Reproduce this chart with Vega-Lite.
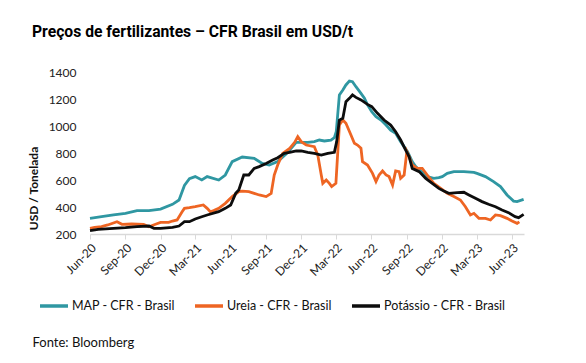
{
"$schema": "https://vega.github.io/schema/vega-lite/v6.json",
"autosize": "none",
"width": 434,
"height": 162,
"padding": {"left": 90, "top": 72, "right": 62, "bottom": 129},
"background": "white",
"title": {"text": "Preços de fertilizantes – CFR Brasil em USD/t", "anchor": "start", "frame": "group", "dx": -58, "font": "Roboto", "fontWeight": "bold", "fontSize": 15.7, "color": "#000000", "offset": 25},
"config": {"view": {"stroke": null}, "font": "Lato"},
"datasets": {
"map": [
{"d":"2020-06-01","v":316},{"d":"2020-07-01","v":328},{"d":"2020-08-01","v":341},{"d":"2020-09-01","v":353},{"d":"2020-10-01","v":373},{"d":"2020-11-01","v":373},{"d":"2020-12-01","v":385},{"d":"2021-01-01","v":420},{"d":"2021-01-18","v":452},{"d":"2021-02-01","v":560},{"d":"2021-02-14","v":610},{"d":"2021-03-01","v":625},{"d":"2021-03-18","v":600},{"d":"2021-04-01","v":625},{"d":"2021-05-01","v":600},{"d":"2021-05-18","v":637},{"d":"2021-06-05","v":736},{"d":"2021-07-01","v":770},{"d":"2021-08-01","v":760},{"d":"2021-08-22","v":723},{"d":"2021-09-09","v":711},{"d":"2021-10-01","v":736},{"d":"2021-10-22","v":790},{"d":"2021-11-01","v":822},{"d":"2021-11-18","v":879},{"d":"2021-12-01","v":879},{"d":"2021-12-18","v":879},{"d":"2022-01-04","v":884},{"d":"2022-01-17","v":896},{"d":"2022-01-30","v":889},{"d":"2022-02-16","v":896},{"d":"2022-02-25","v":914},{"d":"2022-03-02","v":960},{"d":"2022-03-10","v":1230},{"d":"2022-03-19","v":1267},{"d":"2022-03-27","v":1304},{"d":"2022-04-05","v":1333},{"d":"2022-04-13","v":1328},{"d":"2022-04-22","v":1291},{"d":"2022-05-05","v":1242},{"d":"2022-05-14","v":1205},{"d":"2022-05-22","v":1156},{"d":"2022-06-02","v":1106},{"d":"2022-06-13","v":1069},{"d":"2022-06-26","v":1044},{"d":"2022-07-09","v":1007},{"d":"2022-07-21","v":970},{"d":"2022-08-03","v":946},{"d":"2022-08-16","v":884},{"d":"2022-09-03","v":810},{"d":"2022-09-15","v":736},{"d":"2022-09-24","v":699},{"d":"2022-10-07","v":667},{"d":"2022-10-24","v":625},{"d":"2022-11-10","v":612},{"d":"2022-11-23","v":617},{"d":"2022-12-02","v":625},{"d":"2022-12-15","v":649},{"d":"2023-01-01","v":662},{"d":"2023-01-27","v":662},{"d":"2023-02-22","v":657},{"d":"2023-03-02","v":649},{"d":"2023-03-24","v":625},{"d":"2023-04-14","v":588},{"d":"2023-05-02","v":551},{"d":"2023-05-19","v":489},{"d":"2023-06-05","v":444},{"d":"2023-06-14","v":440},{"d":"2023-07-01","v":457}
],
"ureia": [
{"d":"2020-06-01","v":242},{"d":"2020-06-13","v":249},{"d":"2020-07-01","v":254},{"d":"2020-07-17","v":267},{"d":"2020-08-10","v":291},{"d":"2020-08-23","v":272},{"d":"2020-09-17","v":274},{"d":"2020-10-18","v":272},{"d":"2020-11-01","v":254},{"d":"2020-11-18","v":272},{"d":"2020-12-01","v":286},{"d":"2020-12-22","v":286},{"d":"2021-01-01","v":296},{"d":"2021-01-13","v":304},{"d":"2021-01-26","v":365},{"d":"2021-02-01","v":390},{"d":"2021-02-14","v":395},{"d":"2021-03-01","v":402},{"d":"2021-03-22","v":415},{"d":"2021-04-01","v":390},{"d":"2021-04-09","v":365},{"d":"2021-04-18","v":373},{"d":"2021-05-01","v":390},{"d":"2021-05-18","v":427},{"d":"2021-06-05","v":477},{"d":"2021-06-22","v":514},{"d":"2021-07-01","v":518},{"d":"2021-07-18","v":514},{"d":"2021-08-01","v":501},{"d":"2021-08-14","v":489},{"d":"2021-09-01","v":477},{"d":"2021-09-14","v":501},{"d":"2021-09-22","v":637},{"d":"2021-10-01","v":711},{"d":"2021-10-14","v":797},{"d":"2021-11-01","v":834},{"d":"2021-11-14","v":879},{"d":"2021-11-22","v":921},{"d":"2021-12-01","v":884},{"d":"2021-12-14","v":859},{"d":"2022-01-04","v":847},{"d":"2022-01-13","v":785},{"d":"2022-01-22","v":637},{"d":"2022-01-26","v":575},{"d":"2022-02-04","v":600},{"d":"2022-02-12","v":575},{"d":"2022-02-18","v":551},{"d":"2022-03-01","v":575},{"d":"2022-03-10","v":1007},{"d":"2022-03-19","v":1044},{"d":"2022-03-27","v":1020},{"d":"2022-04-09","v":933},{"d":"2022-04-18","v":872},{"d":"2022-04-26","v":859},{"d":"2022-05-05","v":835},{"d":"2022-05-09","v":736},{"d":"2022-05-22","v":711},{"d":"2022-06-04","v":649},{"d":"2022-06-13","v":588},{"d":"2022-06-21","v":637},{"d":"2022-06-30","v":667},{"d":"2022-07-09","v":637},{"d":"2022-07-17","v":625},{"d":"2022-07-26","v":563},{"d":"2022-08-03","v":667},{"d":"2022-08-12","v":662},{"d":"2022-08-16","v":612},{"d":"2022-08-25","v":637},{"d":"2022-09-01","v":810},{"d":"2022-09-07","v":773},{"d":"2022-09-15","v":711},{"d":"2022-09-28","v":686},{"d":"2022-10-11","v":686},{"d":"2022-10-24","v":637},{"d":"2022-11-10","v":575},{"d":"2022-11-28","v":538},{"d":"2022-12-15","v":501},{"d":"2023-01-01","v":477},{"d":"2023-01-18","v":452},{"d":"2023-01-31","v":402},{"d":"2023-02-13","v":341},{"d":"2023-02-22","v":353},{"d":"2023-03-07","v":316},{"d":"2023-03-24","v":316},{"d":"2023-04-06","v":304},{"d":"2023-04-19","v":341},{"d":"2023-05-02","v":336},{"d":"2023-05-19","v":316},{"d":"2023-06-01","v":296},{"d":"2023-06-14","v":279},{"d":"2023-06-20","v":290}
],
"potassio": [
{"d":"2020-06-01","v":225},{"d":"2020-06-22","v":235},{"d":"2020-08-01","v":242},{"d":"2020-09-01","v":247},{"d":"2020-10-01","v":254},{"d":"2020-11-01","v":259},{"d":"2020-11-14","v":242},{"d":"2020-12-01","v":242},{"d":"2021-01-01","v":249},{"d":"2021-01-18","v":259},{"d":"2021-02-01","v":291},{"d":"2021-02-14","v":291},{"d":"2021-03-01","v":311},{"d":"2021-03-18","v":328},{"d":"2021-04-01","v":341},{"d":"2021-04-22","v":358},{"d":"2021-05-01","v":365},{"d":"2021-05-18","v":390},{"d":"2021-06-01","v":415},{"d":"2021-06-14","v":501},{"d":"2021-06-22","v":526},{"d":"2021-07-05","v":637},{"d":"2021-07-18","v":637},{"d":"2021-08-01","v":686},{"d":"2021-08-14","v":699},{"d":"2021-09-01","v":723},{"d":"2021-09-18","v":748},{"d":"2021-10-01","v":765},{"d":"2021-10-18","v":797},{"d":"2021-11-01","v":805},{"d":"2021-11-18","v":815},{"d":"2021-12-01","v":815},{"d":"2021-12-18","v":805},{"d":"2022-01-04","v":797},{"d":"2022-01-22","v":785},{"d":"2022-02-08","v":797},{"d":"2022-02-25","v":805},{"d":"2022-03-03","v":884},{"d":"2022-03-10","v":1044},{"d":"2022-03-19","v":1057},{"d":"2022-03-27","v":1180},{"d":"2022-04-05","v":1205},{"d":"2022-04-13","v":1230},{"d":"2022-04-22","v":1212},{"d":"2022-05-05","v":1193},{"d":"2022-05-22","v":1160},{"d":"2022-06-02","v":1143},{"d":"2022-06-17","v":1094},{"d":"2022-07-04","v":1044},{"d":"2022-07-21","v":1007},{"d":"2022-08-03","v":958},{"d":"2022-08-16","v":896},{"d":"2022-08-29","v":822},{"d":"2022-09-07","v":773},{"d":"2022-09-15","v":686},{"d":"2022-10-03","v":662},{"d":"2022-10-20","v":612},{"d":"2022-11-06","v":575},{"d":"2022-11-23","v":538},{"d":"2022-12-06","v":518},{"d":"2022-12-19","v":501},{"d":"2023-01-10","v":506},{"d":"2023-01-27","v":509},{"d":"2023-02-09","v":489},{"d":"2023-02-26","v":464},{"d":"2023-03-15","v":440},{"d":"2023-04-01","v":420},{"d":"2023-04-19","v":402},{"d":"2023-05-06","v":378},{"d":"2023-05-23","v":358},{"d":"2023-06-09","v":328},{"d":"2023-06-18","v":321},{"d":"2023-07-01","v":346}
]
},
"encoding": {
"x": {"field": "d", "type": "temporal",
 "scale": {"type": "utc", "domain": [{"year": 2020, "month": 6, "date": 1, "utc": true}, {"year": 2023, "month": 7, "date": 2, "utc": true}]},
 "axis": {"values": [{"year":2020,"month":6,"date":1,"utc":true},{"year":2020,"month":9,"date":1,"utc":true},{"year":2020,"month":12,"date":1,"utc":true},{"year":2021,"month":3,"date":1,"utc":true},{"year":2021,"month":6,"date":1,"utc":true},{"year":2021,"month":9,"date":1,"utc":true},{"year":2021,"month":12,"date":1,"utc":true},{"year":2022,"month":3,"date":1,"utc":true},{"year":2022,"month":6,"date":1,"utc":true},{"year":2022,"month":9,"date":1,"utc":true},{"year":2022,"month":12,"date":1,"utc":true},{"year":2023,"month":3,"date":1,"utc":true},{"year":2023,"month":6,"date":1,"utc":true}],
  "labelExpr": "utcFormat(datum.value, '%b-%y')", "labelAngle": -45, "labelFontSize": 12, "labelColor": "#222222", "labelFont": "Lato",
  "grid": false, "domainColor": "#d9d9d9", "domainWidth": 1.5, "tickColor": "#d9d9d9", "tickSize": 5, "tickWidth": 1, "labelPadding": 3, "labelFlush": false, "labelOverlap": false,
  "title": "Fonte: Bloomberg", "titleX": -58, "titleY": 108, "titleAlign": "left", "titleAnchor": null, "titleBaseline": "middle", "titleFont": "Lato", "titleFontWeight": "normal", "titleFontSize": 13, "titleColor": "#111111"}},
"y": {"field": "v", "type": "quantitative",
 "scale": {"domain": [200, 1400], "nice": false, "zero": false},
 "axis": {"values": [200, 400, 600, 800, 1000, 1200, 1400], "format": "d", "grid": false, "domain": false, "ticks": false, "tickSize": 0, "labelPadding": 14, "labelFontSize": 12, "labelColor": "#222222", "labelFont": "Lato",
  "title": "USD / Tonelada", "titleX": -57, "titleY": 116, "titleAngle": -90, "titleAlign": "center", "titleBaseline": "middle", "titleFont": "Lato", "titleFontWeight": "bold", "titleFontSize": 12, "titleColor": "#111111"}},
"color": {"type": "nominal",
 "scale": {"domain": ["MAP - CFR - Brasil", "Ureia - CFR - Brasil", "Potássio - CFR - Brasil"], "range": ["#2f97a2", "#ee6523", "#0d0d0d"]},
 "legend": {"orient": "none", "direction": "horizontal", "legendX": -52, "legendY": 218, "title": null, "symbolType": "stroke", "symbolSize": 784, "symbolStrokeWidth": 3.5, "labelFont": "Lato", "labelFontSize": 12.5, "labelColor": "#111111", "labelOffset": 2, "columnPadding": 13, "symbolOffset": 0}}
},
"layer": [
{"data": {"name": "map"}, "mark": {"type": "line", "strokeWidth": 2.8}, "encoding": {"color": {"datum": "MAP - CFR - Brasil"}}},
{"data": {"name": "ureia"}, "mark": {"type": "line", "strokeWidth": 2.8}, "encoding": {"color": {"datum": "Ureia - CFR - Brasil"}}},
{"data": {"name": "potassio"}, "mark": {"type": "line", "strokeWidth": 2.8}, "encoding": {"color": {"datum": "Potássio - CFR - Brasil"}}}
]
}
